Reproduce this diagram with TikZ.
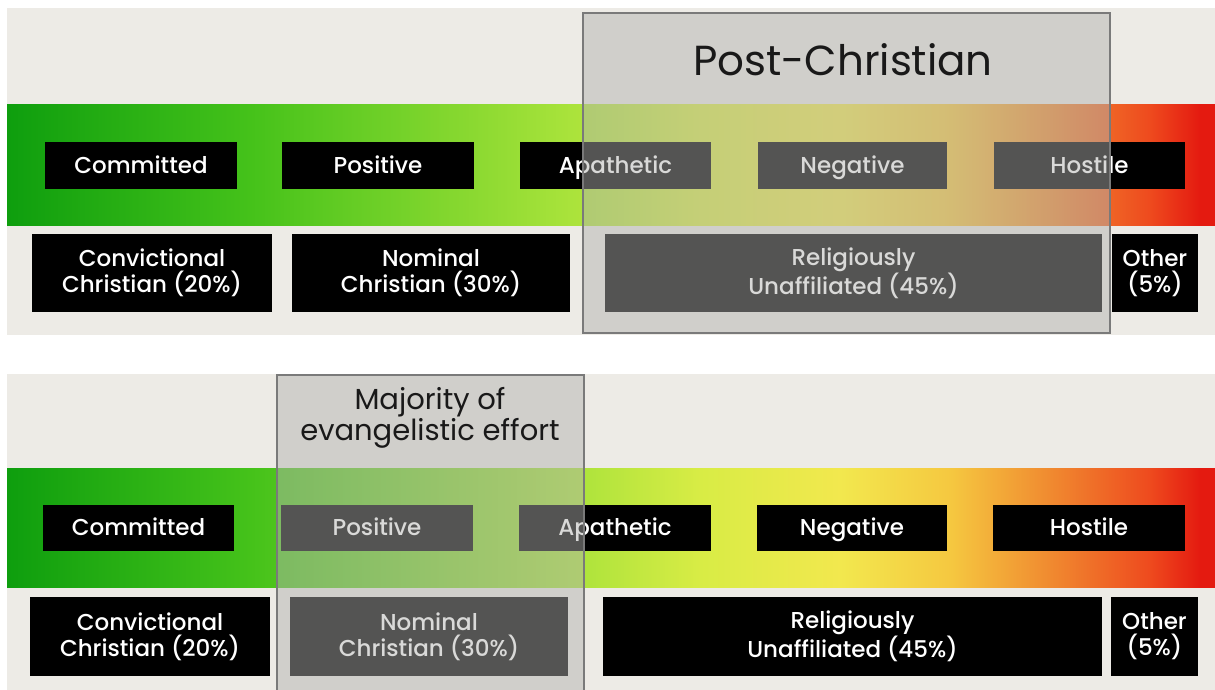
\documentclass[tikz,border=0pt]{standalone}
\usepackage{fontspec}
\setmainfont{Poppins}[UprightFont={* Medium}]
\newfontfamily\titlefont{Poppins}
\definecolor{bgc}{HTML}{EDEBE6}
\definecolor{ovc}{HTML}{B1B1AE}
\definecolor{ovd}{HTML}{7A7A7A}
\definecolor{g0}{HTML}{0E9E0E}
\definecolor{g1}{HTML}{45C21A}
\definecolor{g2}{HTML}{A6E23A}
\definecolor{g3}{HTML}{D8EC45}
\definecolor{g4}{HTML}{F2E84E}
\definecolor{g5}{HTML}{F5C840}
\definecolor{g6}{HTML}{F08A30}
\definecolor{g7}{HTML}{EE4A1E}
\definecolor{g8}{HTML}{E41A10}
\pgfdeclarehorizontalshading{spectrum}{100bp}{%
  color(0bp)=(g0); color(25bp)=(g0); color(35.06bp)=(g1); color(47.89bp)=(g2);
  color(53.68bp)=(g3); color(59.48bp)=(g4); color(64.03bp)=(g5); color(68.17bp)=(g6);
  color(72.31bp)=(g7); color(74.38bp)=(g8); color(100bp)=(g8)}
\begin{document}
\begin{tikzpicture}[x=1pt,y=-1pt,
  tag/.style={fill=black,text=white,inner sep=0pt,align=center,
    font=\fontsize{23}{26}\selectfont},
  toptag/.style={tag,minimum height=46pt,text height=19pt,text depth=3pt},
  lowtag/.style={tag,minimum height=78pt},
  bar/.style={shading=spectrum},
  overlay box/.style={fill=ovc,fill opacity=0.48,draw=ovd,draw opacity=1,line width=2pt},
  title/.style={text=black!90,inner sep=0pt,align=center}]
\useasboundingbox (0,0) rectangle (1215,690);
\fill[white] (0,0) rectangle (1215,690);
% ---------- top panel ----------
\fill[bgc] (7,8) rectangle (1215,335);
\shade[bar] (7,105) rectangle (1215,225);
\node[toptag,minimum width=192pt] (tc) at (141,165.5) {Committed};
\node[toptag,minimum width=192pt] (tp) at (378,165.5) {Positive};
\node[toptag,minimum width=191pt] (ta) at (615.5,165.5) {Apathetic};
\node[toptag,minimum width=189pt] (tn) at (852.5,165.5) {Negative};
\node[toptag,minimum width=191pt] (th) at (1089.5,165.5) {Hostile};
\node[lowtag,minimum width=240pt] (tcc) at (152,273) {Convictional\\Christian (20\%)};
\node[lowtag,minimum width=278pt] (tnc) at (431,273) {Nominal\\Christian (30\%)};
\node[lowtag,minimum width=497pt] (tru) at (853.5,273) {Religiously\\Unaffiliated (45\%)};
\node[lowtag,minimum width=86pt] (tot) at (1155,273) {Other\\(5\%)};
\draw[overlay box] (583,13) rectangle (1110,333);
\node[title,font=\titlefont\fontsize{42}{48}\selectfont] (post) at (843,60) {Post-Christian};
% ---------- bottom panel ----------
\fill[bgc] (7,374) rectangle (1215,690);
\shade[bar] (7,468) rectangle (1215,587);
\node[toptag,minimum width=191pt] (bc) at (138.5,527.5) {Committed};
\node[toptag,minimum width=192pt] (bp) at (377,527.5) {Positive};
\node[toptag,minimum width=192pt] (ba) at (615,527.5) {Apathetic};
\node[toptag,minimum width=190pt] (bn) at (852,527.5) {Negative};
\node[toptag,minimum width=192pt] (bh) at (1089,527.5) {Hostile};
\node[lowtag,minimum width=240pt,minimum height=79pt] (bcc) at (150,636.5) {Convictional\\Christian (20\%)};
\node[lowtag,minimum width=278pt,minimum height=79pt] (bnc) at (429,636.5) {Nominal\\Christian (30\%)};
\node[lowtag,minimum width=499pt,minimum height=79pt] (bru) at (852.5,636.5) {Religiously\\Unaffiliated (45\%)};
\node[lowtag,minimum width=87pt,minimum height=79pt] (bot) at (1154.5,636.5) {Other\\(5\%)};
\draw[overlay box] (277,375) rectangle (584,691);
\node[title,font=\titlefont\fontsize{29}{31}\selectfont] (maj) at (430,418) {Majority of\\evangelistic effort};
\end{tikzpicture}
\end{document}
